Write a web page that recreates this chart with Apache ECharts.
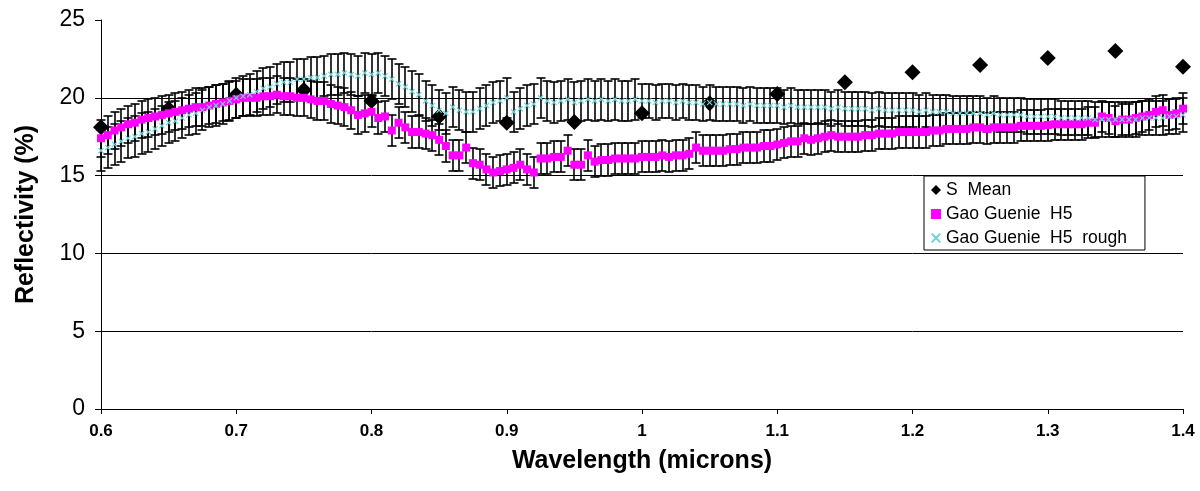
<!DOCTYPE html>
<html>
<head>
<meta charset="utf-8">
<script src="https://cdn.jsdelivr.net/npm/echarts@6/dist/echarts.min.js"></script>
<style>
html,body{margin:0;padding:0;background:#fff;}
#chart{width:1200px;height:491px;}
</style>
</head>
<body>
<div id="chart"></div>
<script>
// Wavelength grid of the two dense series: 0.600 .. 1.400 step 0.005 (161 points)
const waveStart = 0.6;
const waveStep = 0.005;

// S Mean (every 0.05 micron)
const meanWave = [0.6,0.65,0.7,0.75,0.8,0.85,0.9,0.95,1.0,1.05,1.1,1.15,1.2,1.25,1.3,1.35,1.4];
const meanValues = [18.1,19.3,20.2,20.5,19.8,18.8,18.4,18.45,19.0,19.65,20.25,21.0,21.65,22.1,22.55,23.0,22.0];

// Gao Guenie  H5
const gaoValues = [
17.4,17.6,17.9,18.1,18.3,18.4,18.6,18.7,18.8,18.9,
19.0,19.1,19.2,19.3,19.4,19.4,19.5,19.6,19.7,19.8,
19.9,20.0,20.0,20.0,20.1,20.1,20.2,20.1,20.1,20.0,
20.0,19.9,19.8,19.8,19.6,19.5,19.4,19.2,18.9,19.0,
19.1,18.7,18.8,17.9,18.4,18.1,17.8,17.8,17.7,17.6,
17.3,16.9,16.3,16.3,16.8,15.8,15.7,15.4,15.2,15.3,
15.4,15.5,15.7,15.4,15.2,16.1,16.1,16.2,16.2,16.6,
15.7,15.7,16.3,15.9,16.0,16.0,16.1,16.1,16.1,16.1,
16.2,16.2,16.2,16.3,16.2,16.3,16.3,16.4,16.8,16.6,
16.6,16.6,16.6,16.7,16.7,16.8,16.8,16.8,16.9,16.9,
17.0,17.1,17.2,17.2,17.4,17.3,17.4,17.5,17.6,17.5,
17.5,17.5,17.5,17.6,17.6,17.7,17.7,17.7,17.8,17.8,
17.8,17.8,17.8,17.9,17.9,18.0,18.0,18.0,18.0,18.1,
18.1,18.0,18.1,18.1,18.1,18.1,18.2,18.2,18.2,18.2,
18.25,18.3,18.3,18.3,18.3,18.3,18.4,18.4,18.8,18.7,
18.5,18.6,18.6,18.7,18.8,18.9,19.1,19.2,18.9,19.0,
19.3
];
const gaoErr = [
1.2,1.2,1.2,1.2,1.2,1.2,1.2,1.2,1.2,1.2,
1.2,1.2,1.2,1.2,1.2,1.2,1.2,1.2,1.2,1.2,
1.2,1.2,1.2,1.2,1.2,1.2,1.2,1.2,1.2,1.2,
1.2,1.2,1.2,1.2,1.2,1.2,1.2,1.2,1.2,1.2,
1.0,1.0,1.0,1.0,1.0,1.0,1.0,1.0,1.0,1.0,
1.0,1.0,1.0,1.0,1.0,1.0,1.0,1.0,1.0,1.0,
1.0,1.0,1.0,1.0,1.0,1.0,1.0,1.0,1.0,1.0,
1.0,1.0,1.0,1.0,1.0,1.0,1.0,1.0,1.0,1.0,
1.0,1.0,1.0,1.0,1.0,1.0,1.0,1.0,1.0,1.0,
1.0,1.0,1.0,1.0,1.0,1.0,1.0,1.0,1.0,1.0,
1.0,1.0,1.0,1.0,1.0,1.0,1.0,1.0,1.0,1.0,
1.0,1.0,1.0,1.0,1.0,1.0,1.0,1.0,1.0,1.0,
1.0,1.0,1.0,1.0,1.0,1.0,1.0,1.0,1.0,1.0,
1.0,1.0,1.0,1.0,1.0,1.0,1.0,1.0,1.0,1.0,
1.0,1.0,1.0,1.0,1.0,1.0,1.0,1.0,1.0,1.0,
1.0,1.0,1.0,1.0,1.0,1.0,1.0,1.0,1.0,1.0,
1.0
];

// Gao Guenie  H5  rough
const roughValues = [
16.6,16.8,17.0,17.2,17.4,17.5,17.7,17.8,18.0,18.2,
18.4,18.5,18.7,18.9,19.0,19.2,19.4,19.5,19.6,19.8,
20.0,20.1,20.2,20.4,20.6,20.7,20.9,21.0,21.0,21.2,
21.2,21.3,21.3,21.4,21.5,21.5,21.6,21.5,21.4,21.6,
21.5,21.6,21.4,21.2,20.9,20.7,20.4,20.2,19.8,19.5,
19.2,19.0,19.4,19.2,19.1,19.1,19.3,19.5,19.7,19.8,
20.0,19.1,19.3,19.5,19.6,20.0,19.8,19.7,19.8,19.9,
19.7,19.8,19.9,19.8,19.9,19.8,19.9,19.8,19.8,19.9,
19.8,19.8,19.7,19.8,19.8,19.7,19.8,19.7,19.7,19.6,
19.7,19.6,19.6,19.6,19.6,19.5,19.6,19.5,19.5,19.5,
19.5,19.4,19.5,19.4,19.4,19.4,19.4,19.4,19.3,19.4,
19.3,19.3,19.3,19.3,19.2,19.3,19.2,19.2,19.2,19.2,
19.2,19.1,19.2,19.1,19.1,19.1,19.0,19.0,19.0,19.0,
19.0,18.9,19.0,18.9,18.9,18.9,18.9,18.8,18.8,18.8,
18.8,18.8,18.7,18.7,18.7,18.7,18.7,18.6,18.6,18.6,
18.6,18.6,18.6,18.6,18.7,18.7,18.7,18.7,18.8,18.8,
18.9
];
const roughErr = [
1.3,1.3,1.3,1.3,1.3,1.3,1.3,1.3,1.3,1.3,
1.3,1.3,1.3,1.3,1.3,1.3,1.3,1.3,1.3,1.3,
1.3,1.3,1.3,1.3,1.3,1.3,1.3,1.3,1.3,1.3,
1.3,1.3,1.3,1.3,1.3,1.3,1.3,1.3,1.3,1.3,
1.3,1.3,1.3,1.3,1.3,1.3,1.3,1.3,1.3,1.3,
1.3,1.3,1.3,1.3,1.3,1.3,1.3,1.3,1.3,1.3,
1.3,1.3,1.3,1.3,1.3,1.3,1.3,1.3,1.3,1.3,
1.3,1.3,1.3,1.3,1.3,1.3,1.3,1.3,1.3,1.3,
1.1,1.1,1.1,1.1,1.1,1.1,1.1,1.1,1.1,1.1,
1.1,1.1,1.1,1.1,1.1,1.1,1.1,1.1,1.1,1.1,
1.1,1.1,1.1,1.1,1.1,1.1,1.1,1.1,1.1,1.1,
1.1,1.1,1.1,1.1,1.1,1.1,1.1,1.1,1.1,1.1,
1.1,1.1,1.1,1.1,1.1,1.1,1.1,1.1,1.1,1.1,
1.1,1.1,1.1,1.1,1.1,1.1,1.1,1.1,1.1,1.1,
1.1,1.1,1.1,1.1,1.1,1.1,1.1,1.1,1.1,1.1,
1.1,1.1,1.1,1.1,1.1,1.1,1.1,1.1,1.1,1.1,
1.1
];

const yTicks = [0,5,10,15,20,25];
const xTicks = [0.6,0.7,0.8,0.9,1.0,1.1,1.2,1.3,1.4];

const seriesNames = ['S  Mean','Gao Guenie  H5','Gao Guenie  H5  rough'];

// ---- build library data ----
const waves = gaoValues.map((_, i) => +(waveStart + waveStep * i).toFixed(3));
const meanData = meanWave.map((w, i) => [w, meanValues[i]]);
const gaoData = waves.map((w, i) => [w, gaoValues[i]]);
const roughData = waves.map((w, i) => [w, roughValues[i]]);
const errData = [];
waves.forEach((w, i) => { errData.push([w, gaoValues[i] - gaoErr[i], gaoValues[i] + gaoErr[i]]); });
waves.forEach((w, i) => { errData.push([w, roughValues[i] - roughErr[i], roughValues[i] + roughErr[i]]); });

const FONT = "'Liberation Sans', Arial, sans-serif";
const crossPath = 'path://M0,1.4L1.4,0L5,3.6L8.6,0L10,1.4L6.4,5L10,8.6L8.6,10L5,6.4L1.4,10L0,8.6L3.6,5Z';

function renderErr(params, api) {
  const x = api.value(0), lo = api.value(1), hi = api.value(2);
  const pHi = api.coord([x, hi]);
  const pLo = api.coord([x, lo]);
  const cx = Math.round(pHi[0]);
  const yh = Math.round(pHi[1]);
  const yl = Math.round(pLo[1]);
  const hw = 4.5;
  const st = { stroke: '#000', lineWidth: 1.6 };
  return {
    type: 'group',
    children: [
      { type: 'line', shape: { x1: cx, y1: yh, x2: cx, y2: yl }, style: st },
      { type: 'line', shape: { x1: cx - hw, y1: yh, x2: cx + hw, y2: yh }, style: st },
      { type: 'line', shape: { x1: cx - hw, y1: yl, x2: cx + hw, y2: yl }, style: st }
    ]
  };
}

const chart = echarts.init(document.getElementById('chart'), null, { renderer: 'canvas' });
chart.setOption({
  animation: false,
  backgroundColor: '#ffffff',
  textStyle: { fontFamily: FONT },
  grid: { left: 101, right: 17, top: 20, bottom: 82, containLabel: false },
  legend: {
    orient: 'vertical',
    left: 924,
    top: 176,
    padding: [5, 18, 3, 7],
    itemGap: 6,
    itemWidth: 10,
    itemHeight: 10,
    borderColor: '#000',
    borderWidth: 1,
    backgroundColor: '#fff',
    data: seriesNames,
    textStyle: { fontFamily: FONT, fontSize: 17.5, color: '#000', lineHeight: 18 }
  },
  xAxis: {
    type: 'value',
    min: xTicks[0],
    max: xTicks[xTicks.length - 1],
    interval: 0.1,
    name: 'Wavelength (microns)',
    nameLocation: 'middle',
    nameGap: 40,
    nameTextStyle: { fontFamily: FONT, fontSize: 25, fontWeight: 'bold', color: '#000' },
    axisLine: { show: true, onZero: false, lineStyle: { color: '#000', width: 1 } },
    axisTick: { show: true, inside: false, length: 5, lineStyle: { color: '#000' } },
    axisLabel: {
      fontFamily: FONT, fontSize: 17, fontWeight: 'bold', color: '#000', margin: 14,
      formatter: v => String(+(+v).toFixed(1))
    },
    splitLine: { show: false }
  },
  yAxis: {
    type: 'value',
    min: yTicks[0],
    max: yTicks[yTicks.length - 1],
    interval: 5,
    name: 'Reflectivity (%)',
    nameLocation: 'middle',
    nameGap: 62,
    nameTextStyle: { fontFamily: FONT, fontSize: 25, fontWeight: 'bold', color: '#000' },
    axisLine: { show: true, lineStyle: { color: '#000', width: 1 } },
    axisTick: { show: true, inside: false, length: 6, lineStyle: { color: '#000' } },
    axisLabel: { fontFamily: FONT, fontSize: 23, color: '#000', margin: 16 },
    splitLine: { show: true, showMaxLine: false, lineStyle: { color: '#000', width: 1 } }
  },
  series: [
    {
      name: 'errorbars',
      type: 'custom',
      renderItem: renderErr,
      encode: { x: 0, y: [1, 2] },
      data: errData,
      z: 2,
      silent: true
    },
    {
      name: seriesNames[0],
      type: 'scatter',
      symbol: 'diamond',
      symbolSize: 16,
      itemStyle: { color: '#000000', opacity: 1 },
      data: meanData,
      z: 1
    },
    {
      name: seriesNames[1],
      type: 'scatter',
      symbol: 'rect',
      symbolSize: 8,
      itemStyle: { color: '#ff00ff', opacity: 1 },
      data: gaoData,
      z: 3
    },
    {
      name: seriesNames[2],
      type: 'scatter',
      symbol: crossPath,
      symbolSize: 6,
      itemStyle: { color: '#6fd3d6', opacity: 1 },
      data: roughData,
      z: 4
    }
  ]
});
</script>
</body>
</html>
